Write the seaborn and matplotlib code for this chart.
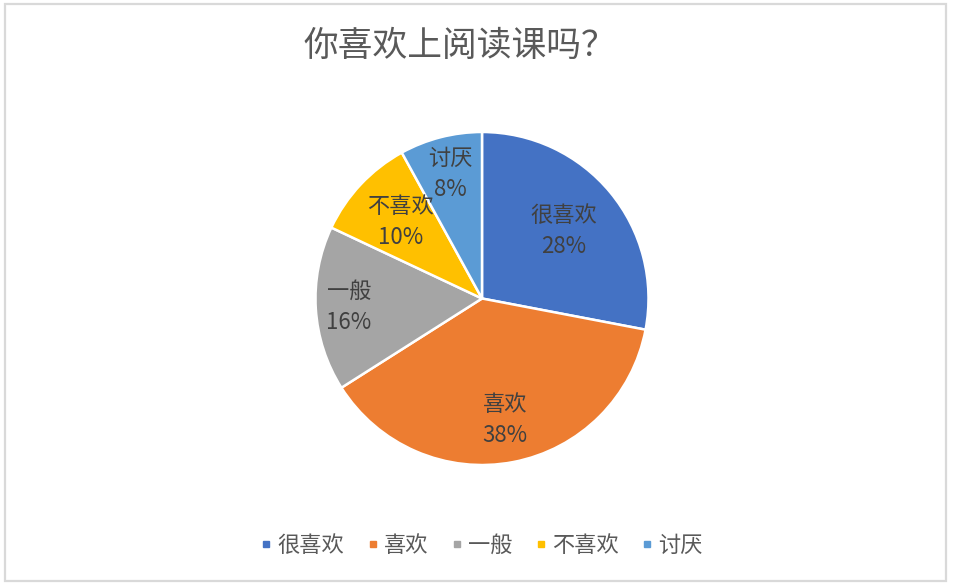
import matplotlib
matplotlib.use("Agg")
import matplotlib.pyplot as plt
from matplotlib.lines import Line2D
from matplotlib.patches import Rectangle
import seaborn as sns
import numpy as np

categories = ["很喜欢", "喜欢", "一般", "不喜欢", "讨厌"]
values = [28, 38, 16, 10, 8]
colors = ["#4472C4", "#ED7D31", "#A5A5A5", "#FFC000", "#5B9BD5"]
title = "你喜欢上阅读课吗？"
label_dist = [0.64, 0.745, 0.80, 0.67, 0.77]

sns.set_theme(style="white")
plt.rcParams['font.family'] = ['Noto Sans CJK SC', 'DejaVu Sans']

W, H = 955, 587
fig = plt.figure(figsize=(W / 100, H / 100), dpi=100)
fig.patch.set_facecolor("white")

cx, cy, r = 482, 298.5, 166.5
ax = fig.add_axes([(cx - r) / W, (H - cy - r) / H, 2 * r / W, 2 * r / H])
palette = sns.color_palette(colors)
wedges, _ = ax.pie(values, colors=palette, startangle=90, counterclock=False,
                   radius=1, wedgeprops=dict(edgecolor="white", linewidth=1.8))
ax.set_xlim(-1, 1)
ax.set_ylim(-1, 1)
ax.set_aspect("equal")
ax.axis("off")

total = sum(values)
for w, cat, v, d in zip(wedges, categories, values, label_dist):
    th = np.deg2rad((w.theta1 + w.theta2) / 2)
    ax.text(d * np.cos(th), d * np.sin(th), f"{cat}\n{round(100 * v / total)}%",
            ha="center", va="center", fontsize=16, color="#404040",
            linespacing=1.45)

fig.text(460 / W, 1 - 46 / H, title, ha="center", va="center",
         fontsize=25, color="#595959")

handles = [Line2D([0], [0], marker="s", linestyle="none", markersize=5,
                  markerfacecolor=c, markeredgecolor=c) for c in palette]
fig.legend(handles, categories, loc="center", bbox_to_anchor=(480 / W, 1 - 545 / H),
           ncol=5, frameon=False, fontsize=16, handletextpad=0.1,
           columnspacing=0.88, handlelength=0.8, labelcolor="#595959")

fig.add_artist(Rectangle((4.5 / W, 1 - 580.5 / H), 941.5 / W, 576.5 / H,
                         transform=fig.transFigure, fill=False,
                         edgecolor="#D9D9D9", linewidth=1.6))

fig.savefig("out.png", dpi=100, facecolor="white")
